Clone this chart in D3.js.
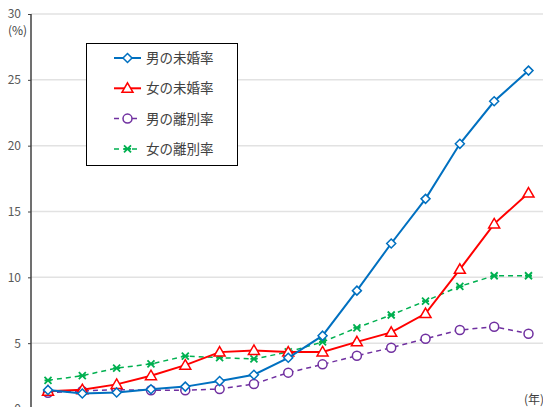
<!DOCTYPE html>
<html><head><meta charset="utf-8">
<script src="https://cdn.jsdelivr.net/npm/d3@7"></script>
<style>body{margin:0;background:#fff;}svg{display:block;}</style>
</head><body>
<svg id="c" width="543" height="407"></svg>
<script>
const years = [1950,1955,1960,1965,1970,1975,1980,1985,1990,1995,2000,2005,2010,2015,2020];
const menUnmarried = [1.45,1.18,1.26,1.50,1.70,2.12,2.60,3.89,5.57,8.99,12.57,15.96,20.14,23.37,25.7];
const womenUnmarried = [1.35,1.47,1.87,2.53,3.33,4.32,4.45,4.32,4.33,5.10,5.82,7.25,10.61,14.06,16.4];
const menDivorced = [1.24,1.37,1.47,1.42,1.42,1.52,1.90,2.76,3.39,4.05,4.65,5.34,6.00,6.25,5.72];
const womenDivorced = [2.18,2.53,3.11,3.42,4.02,3.90,3.80,4.33,5.09,6.17,7.14,8.20,9.32,10.12,10.12];
const yTicks = [0,5,10,15,20,25,30];
const seriesNames = ["男の未婚率","女の未婚率","男の離別率","女の離別率"];

const svg = d3.select("#c");
const font = "'Noto Sans CJK JP', 'Noto Sans', sans-serif";
const x = d3.scaleLinear().domain([1950,2020]).range([48,528.5]);
const y = d3.scaleLinear().domain([0,30]).range([409,14]);

// gridlines
svg.append("g").selectAll("line").data(yTicks.filter(t=>t>0)).join("line")
  .attr("x1",31).attr("x2",543).attr("y1",d=>y(d)).attr("y2",d=>y(d))
  .attr("stroke","#e2e2e2").attr("stroke-width",1.5);

// y axis
const yAxis = d3.axisLeft(y).tickValues(yTicks).tickSize(3).tickPadding(7).tickFormat(d3.format("d"));
const ga = svg.append("g").attr("transform","translate(31,0)").call(yAxis);
ga.select(".domain").attr("stroke","#404040").attr("stroke-width",1.5).attr("d","M0,14V407");
ga.selectAll(".tick line").attr("stroke","#404040");
ga.selectAll(".tick text").attr("fill","#595959").style("font-size","12px").style("font-family",font);

svg.append("text").attr("x",8).attr("y",35).text("(%)")
  .attr("fill","#404040").style("font-size","12px").style("font-family",font);
svg.append("text").attr("x",524).attr("y",404).text("(年)")
  .attr("fill","#404040").style("font-size","12px").style("font-family",font);

const series = [
  {name:seriesNames[0], vals:menUnmarried, color:"#0070C0", dash:null, marker:"diamond"},
  {name:seriesNames[1], vals:womenUnmarried, color:"#FF0000", dash:null, marker:"triangle"},
  {name:seriesNames[2], vals:menDivorced, color:"#7030A0", dash:"5,4", marker:"circle"},
  {name:seriesNames[3], vals:womenDivorced, color:"#00B050", dash:"5,4", marker:"x"}
];

function drawMarker(g, type, color, cx, cy){
  if(type==="diamond"){
    g.append("path").attr("d",`M${cx},${cy-4.5}L${cx+4.5},${cy}L${cx},${cy+4.5}L${cx-4.5},${cy}Z`)
      .attr("fill","#fff").attr("stroke",color).attr("stroke-width",1.5);
  } else if(type==="triangle"){
    g.append("path").attr("d",`M${cx},${cy-5.5}L${cx+5.5},${cy+4}L${cx-5.5},${cy+4}Z`)
      .attr("fill","#fff").attr("stroke",color).attr("stroke-width",1.5);
  } else if(type==="circle"){
    g.append("circle").attr("cx",cx).attr("cy",cy).attr("r",4.5)
      .attr("fill","#fff").attr("stroke",color).attr("stroke-width",1.5);
  } else {
    g.append("path").attr("d",`M${cx-3.5},${cy-3.5}L${cx+3.5},${cy+3.5}M${cx+3.5},${cy-3.5}L${cx-3.5},${cy+3.5}M${cx-3.5},${cy}H${cx+3.5}`)
      .attr("fill","none").attr("stroke",color).attr("stroke-width",1.8);
  }
}

const line = d3.line().x((d,i)=>x(years[i])).y(d=>y(d));
[series[3],series[2],series[1],series[0]].forEach(s=>{
  const g = svg.append("g");
  g.append("path").attr("d",line(s.vals)).attr("fill","none")
    .attr("stroke",s.color).attr("stroke-width",s.dash?1.5:2)
    .attr("stroke-dasharray",s.dash);
  s.vals.forEach((v,i)=>drawMarker(g,s.marker,s.color,x(years[i]),y(v)));
});

// legend
const lg = svg.append("g");
lg.append("rect").attr("x",86.5).attr("y",43.5).attr("width",151).attr("height",122)
  .attr("fill","#fff").attr("stroke","#000").attr("stroke-width",1);
series.forEach((s,i)=>{
  const ly = 58 + i*30.3;
  lg.append("line").attr("x1",114).attr("x2",141).attr("y1",ly).attr("y2",ly)
    .attr("stroke",s.color).attr("stroke-width",s.dash?1.5:2).attr("stroke-dasharray",s.dash);
  drawMarker(lg,s.marker,s.color,127.5,ly);
  lg.append("text").attr("x",146).attr("y",ly+5).text(s.name)
    .attr("fill","#404040").style("font-size","13.5px").style("font-family",font);
});
</script>
</body></html>
